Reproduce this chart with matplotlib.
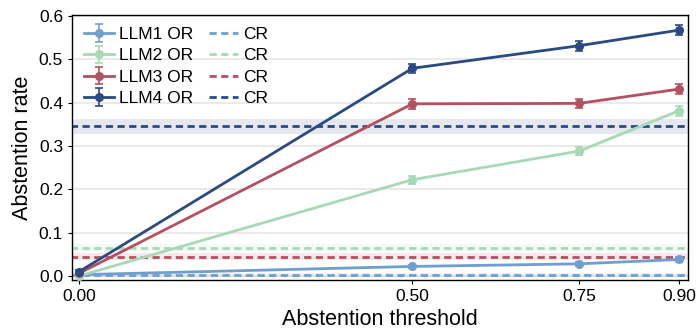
import matplotlib.pyplot as plt
import numpy as np

thresholds = [0.0, 0.5, 0.75, 0.9]
models = ['LLM1', 'LLM2', 'LLM3', 'LLM4']
colors = ['#6f9fcf', '#a6d9b5', '#b5505f', '#2a4a82']

or_rates = [
    [0.003, 0.022, 0.028, 0.038],
    [0.000, 0.222, 0.288, 0.381],
    [0.006, 0.397, 0.398, 0.431],
    [0.010, 0.479, 0.531, 0.567],
]
or_err = [
    [0.002, 0.004, 0.004, 0.005],
    [0.002, 0.009, 0.010, 0.011],
    [0.003, 0.011, 0.011, 0.011],
    [0.003, 0.011, 0.012, 0.011],
]
cr_rates = [0.002, 0.065, 0.044, 0.345]
cr_err = [0.004, 0.008, 0.008, 0.017]

plt.rcParams['font.family'] = ['Liberation Sans', 'DejaVu Sans']

fig, ax = plt.subplots(figsize=(7.0, 3.32), dpi=100)

for y in np.arange(0, 0.61, 0.1):
    ax.axhline(y, color='#e6e6e6', lw=1.2, zorder=0)

handles_or = []
handles_cr = []
for i, m in enumerate(models):
    ax.axhspan(cr_rates[i] - cr_err[i], cr_rates[i] + cr_err[i],
               color=colors[i], alpha=0.12, lw=0, zorder=1)
    h2, = ax.plot([-0.1, 1.0], [cr_rates[i]] * 2, color=colors[i],
                  lw=2, ls=(0, (2.6, 1.6)), zorder=2, label='CR')
    h1 = ax.errorbar(thresholds, or_rates[i], yerr=or_err[i], color=colors[i],
                     lw=2, marker='o', markersize=5.5, capsize=3, elinewidth=1.2,
                     capthick=1.2, zorder=3, label=f'{m} OR')
    handles_or.append(h1)
    handles_cr.append(h2)

ax.set_xlim(-0.0104, 0.9135)
ax.set_ylim(-0.009, 0.602)
ax.set_xticks(thresholds)
ax.set_xticklabels(['0.00', '0.50', '0.75', '0.90'])
ax.set_yticks(np.arange(0, 0.61, 0.1))
ax.set_yticklabels([f'{v:.1f}' for v in np.arange(0, 0.61, 0.1)])
ax.tick_params(labelsize=12.5, length=3)
ax.set_xlabel('Abstention threshold', fontsize=15.5)
ax.set_ylabel('Abstention rate', fontsize=15.5)
for s in ax.spines.values():
    s.set_linewidth(1.0)

ax.legend(handles_or + handles_cr, [f'{m} OR' for m in models] + ['CR'] * 4,
          ncol=2, loc='upper left', frameon=False, fontsize=12.5,
          handlelength=1.7, handletextpad=0.3, labelspacing=0.35,
          columnspacing=0.9, borderaxespad=0.3)

plt.subplots_adjust(left=0.103, right=0.983, top=0.955, bottom=0.157)
plt.savefig('out.png', dpi=100)
